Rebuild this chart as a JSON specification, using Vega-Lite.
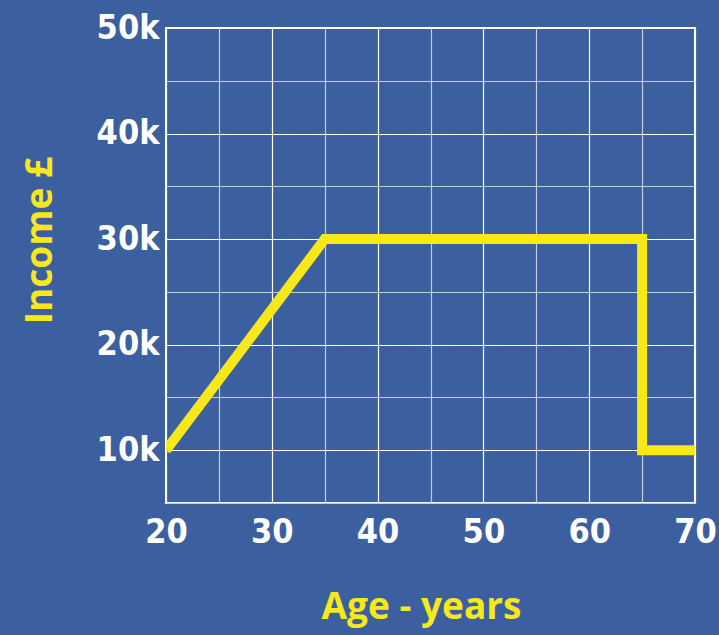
{
  "$schema": "https://vega.github.io/schema/vega-lite/v6.json",
  "width": 529,
  "height": 475,
  "autosize": {"type": "none"},
  "padding": {"left": 166, "top": 28, "right": 24, "bottom": 132},
  "background": "#3c609f",
  "config": {
    "view": {"stroke": "white", "strokeWidth": 2},
    "axis": {
      "domain": false,
      "ticks": false,
      "labelColor": "white",
      "labelFont": "DejaVu Sans Condensed",
      "labelFontWeight": "bold",
      "labelFontSize": 34,
      "labelFlush": false,
      "titleColor": "#f7e81c",
      "titleFont": "Open Sans",
      "titleFontWeight": "bold",
      "titleFontSize": 37,
      "gridWidth": 1.2
    }
  },
  "data": {
    "values": [
      {"i": 1, "age": 20, "income": 10000},
      {"i": 2, "age": 35, "income": 30000},
      {"i": 3, "age": 65, "income": 30000},
      {"i": 4, "age": 65, "income": 10000},
      {"i": 5, "age": 70, "income": 10000}
    ]
  },
  "mark": {"type": "line", "color": "#f8e81a", "strokeWidth": 10, "strokeCap": "butt", "strokeJoin": "miter", "clip": true},
  "encoding": {
    "x": {
      "field": "age", "type": "quantitative",
      "scale": {"domain": [20, 70], "nice": false, "zero": false},
      "axis": {
        "values": [20, 25, 30, 35, 40, 45, 50, 55, 60, 65, 70],
        "labelExpr": "datum.value % 10 == 0 ? datum.label : ''",
        "labelPadding": 12,
        "labelBaseline": "top",
        "gridColor": {"condition": {"test": "datum.value % 10 == 0", "value": "#ffffff"}, "value": "#c3cde0"},
        "title": "Age - years",
        "titleX": 255,
        "titleY": 104,
        "titleBaseline": "middle",
        "titleAlign": "center"
      }
    },
    "y": {
      "field": "income", "type": "quantitative",
      "scale": {"domain": [5000, 50000], "nice": false, "zero": false},
      "axis": {
        "values": [5000, 10000, 15000, 20000, 25000, 30000, 35000, 40000, 45000, 50000],
        "labelExpr": "datum.value % 10000 == 0 ? (datum.value / 1000) + 'k' : ''",
        "labelPadding": 7,
        "labelBaseline": "middle",
        "gridColor": {"condition": {"test": "datum.value % 10000 == 0", "value": "#ffffff"}, "value": "#c3cde0"},
        "title": "Income £",
        "titleX": -126,
        "titleY": 212,
        "titleAngle": 270,
        "titleBaseline": "middle",
        "titleAlign": "center"
      }
    },
    "order": {"field": "i", "type": "quantitative"}
  }
}
